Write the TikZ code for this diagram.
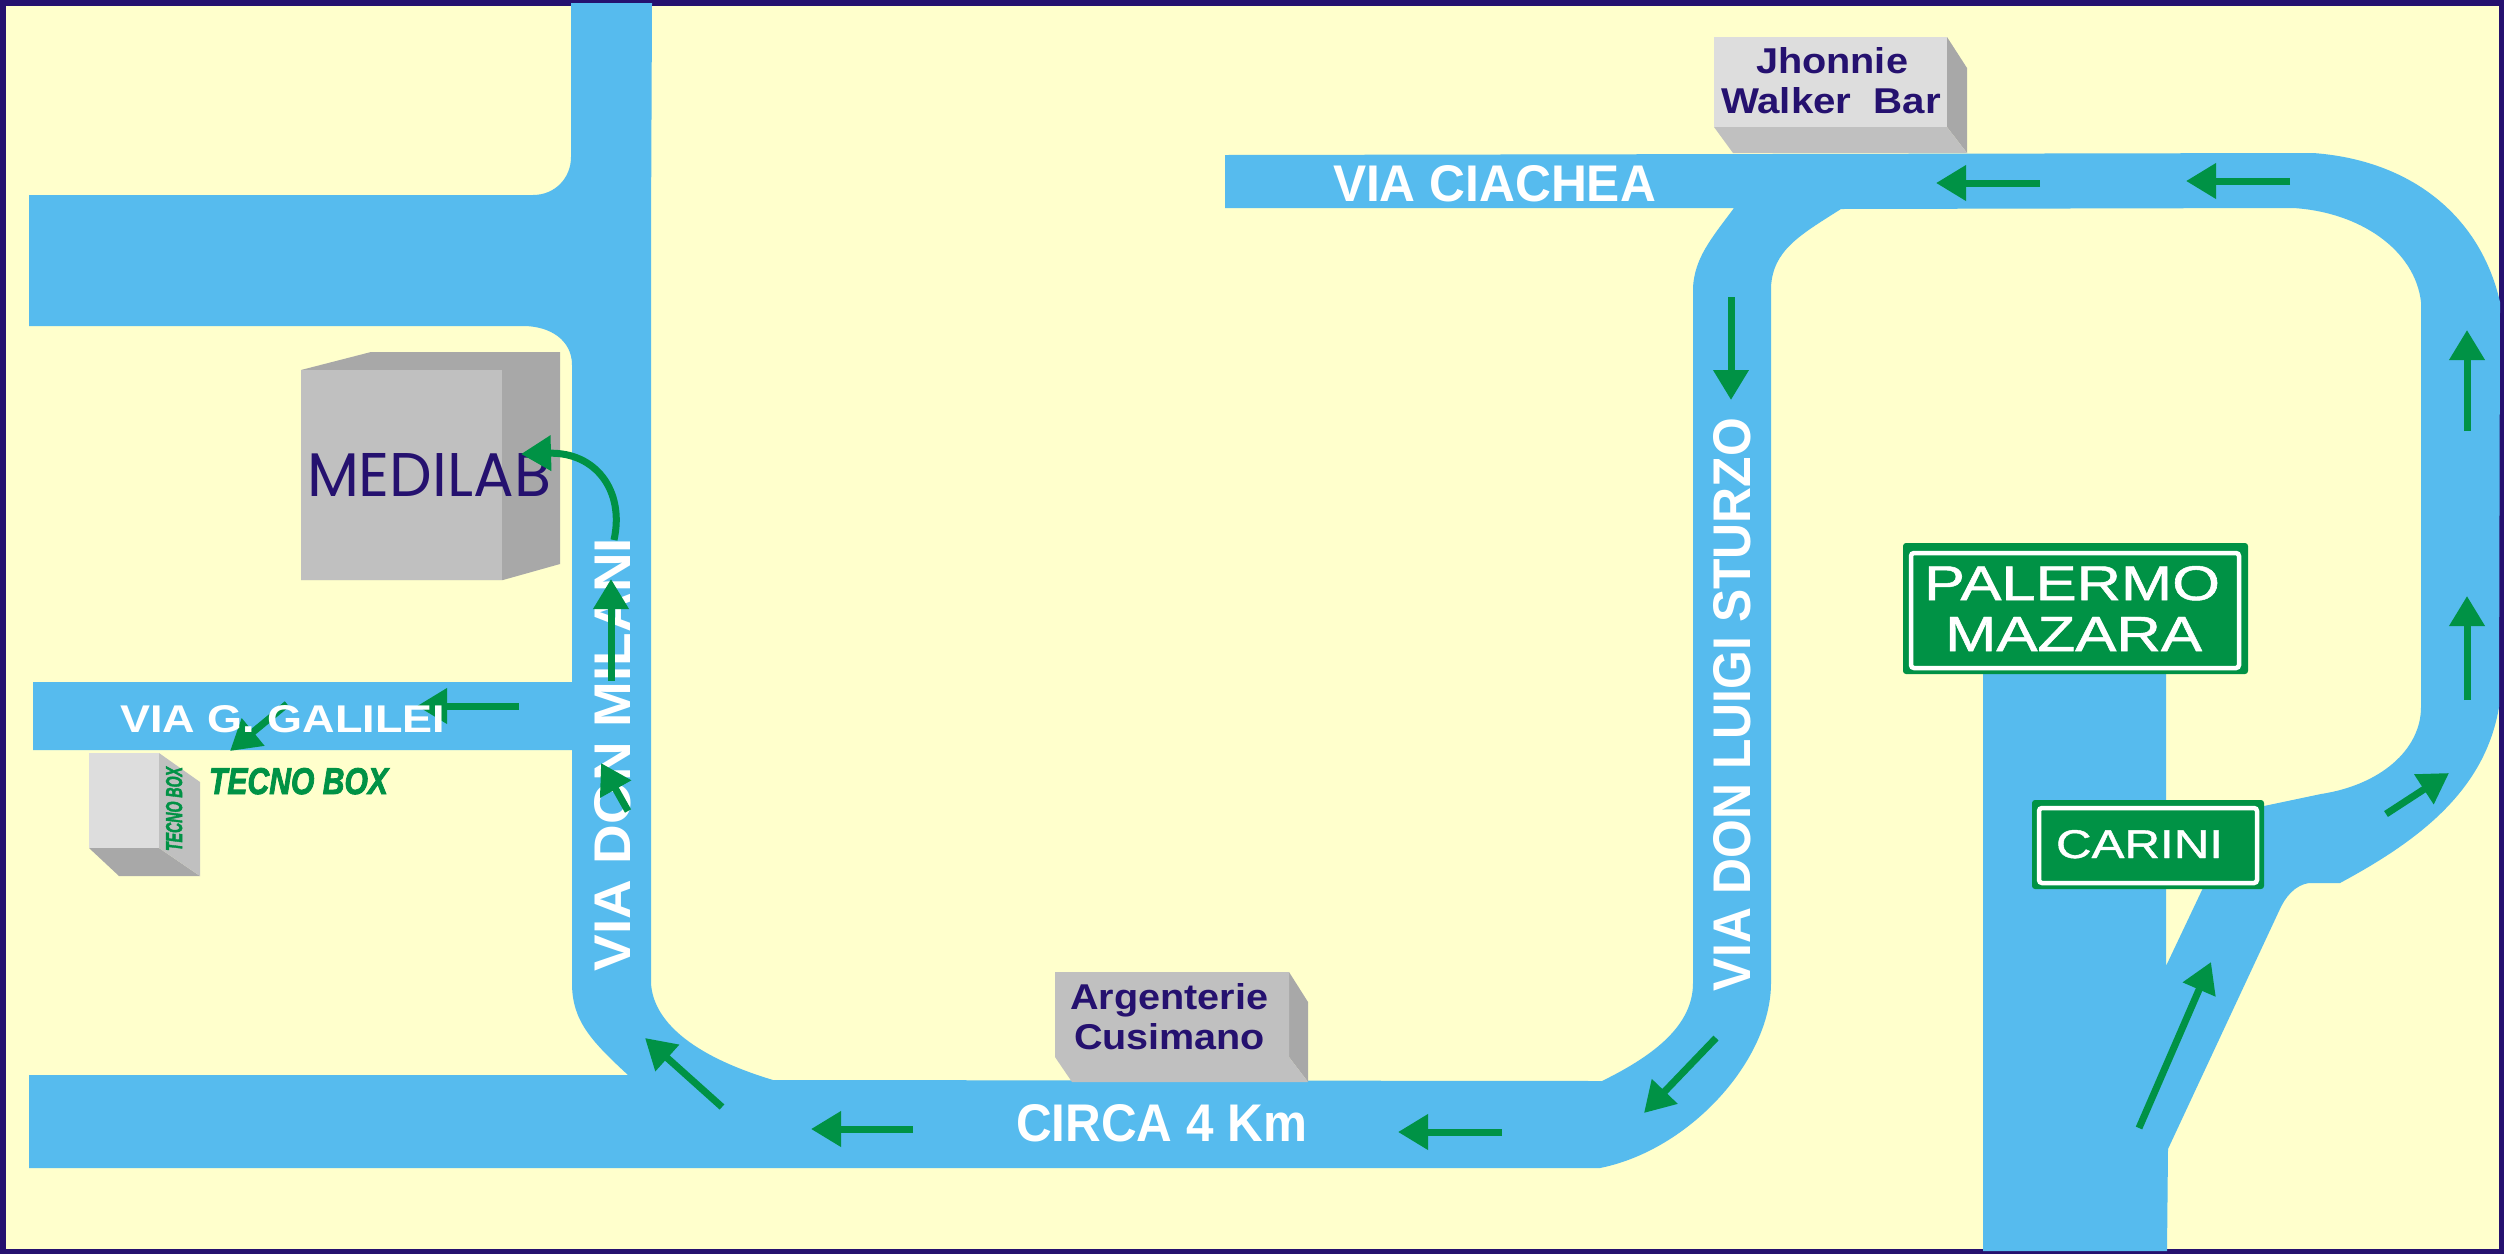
\documentclass[tikz,border=0pt]{standalone}
\usepackage{fontspec}
\usepackage{graphicx}
\setmainfont{Liberation Sans}
\newfontfamily\medifont{Poppins}
\newfontfamily\signfont{Liberation Sans}[FakeBold=1]
\newfontfamily\tecnofont{Liberation Sans Bold Italic}[FakeBold=2.5]
\usetikzlibrary{arrows.meta}
\definecolor{paper}{HTML}{FFFFCC}
\definecolor{frameblue}{HTML}{25116F}
\definecolor{roadblue}{HTML}{56BBEE}
\definecolor{signgreen}{HTML}{009245}
\definecolor{greylight}{HTML}{DDDDDD}
\definecolor{greymid}{HTML}{C0C0C0}
\definecolor{greydark}{HTML}{A8A8A8}
\newcommand{\fitbox}[3]{\resizebox{#1pt}{#2pt}{#3}}
\tikzset{
  lbl/.style={inner sep=0pt,outer sep=0pt,anchor=base west},
  roadlbl/.style={lbl,text=white,font=\bfseries},
  signlbl/.style={lbl,text=white,font=\signfont},
  shoplbl/.style={lbl,text=frameblue,font=\bfseries},
  tecnolbl/.style={lbl,text=signgreen,font=\tecnofont},
  dirarrow/.style={draw=signgreen,line width=7pt,-{Triangle[length=30pt,width=34pt]}},
  signouter/.style={fill=signgreen,rounded corners=3pt},
  signinner/.style={draw=white,line width=4.5pt,rounded corners=3pt},
}
\begin{document}
\begin{tikzpicture}[x=1pt,y=-1pt]
\useasboundingbox (0,0) rectangle (2504,1254);
% ground and frame
\fill[paper] (0,0) rectangle (2504,1254);
\draw[frameblue,line width=5.5pt] (2.75,2.75) rectangle (2501.25,1251.25);
% road network
\fill[roadblue] (29,195) -- (533,195) .. controls (555,195) and (571,178) .. (571,157)
  -- (571,3) -- (652,3) -- (651,233) -- (651,983)
  .. controls (653,1020) and (690,1055) .. (773,1080)
  -- (1602,1081) .. controls (1655,1055) and (1693,1025) .. (1693,983)
  -- (1693,287) .. controls (1695,258) and (1710,240) .. (1734,208)
  -- (1225,208) -- (1225,155) -- (2313,153)
  .. controls (2410,160) and (2480,215) .. (2500,302)
  -- (2499,707) .. controls (2485,790) and (2420,840) .. (2340,883)
  -- (2309,883) .. controls (2295,885) and (2285,897) .. (2279,911)
  -- (2168,1149) -- (2167,1251) -- (1983,1251) -- (1983,660) -- (2166,660)
  -- (2166,966) -- (2202,890) -- (2230,830) -- (2264,806)
  -- (2321,794) .. controls (2380,785) and (2421,750) .. (2421,707)
  -- (2421,302) .. controls (2415,250) and (2360,212) .. (2293,208)
  -- (1841,209) .. controls (1800,235) and (1773,250) .. (1771,287)
  -- (1771,983) .. controls (1771,1060) and (1690,1150) .. (1600,1168)
  -- (29,1168) -- (29,1075) -- (628,1075)
  .. controls (590,1040) and (572,1020) .. (572,983)
  -- (572,750) -- (33,750) -- (33,682) -- (572,682) -- (572,365)
  .. controls (572,340) and (550,326) .. (523,326) -- (29,326) -- cycle;
% Medilab building
\fill[greydark] (301,370) -- (371,352) -- (560,352) -- (560,564) -- (503,580) -- (301,580) -- cycle;
\fill[greymid] (301,370) rectangle (502,580);
% Tecno Box building
\fill[greydark] (89,848) -- (119,876) -- (200,876) -- (159,848) -- cycle;
\fill[greymid] (159,753) -- (200,782) -- (200,876) -- (159,848) -- cycle;
\fill[greylight] (89,753) rectangle (159,848);
% Jhonnie Walker Bar building
\fill[greydark] (1947,37) -- (1967,68) -- (1967,153) -- (1947,127) -- cycle;
\fill[greymid] (1714,127) -- (1733,153) -- (1967,153) -- (1947,127) -- cycle;
\fill[greylight] (1714,37) rectangle (1947,127);
% Argenterie building
\fill[greydark] (1289,972) -- (1308,1002) -- (1308,1082) -- (1289,1057) -- cycle;
\fill[greymid] (1055,972) -- (1289,972) -- (1289,1057) -- (1308,1082) -- (1072,1082) -- (1055,1057) -- cycle;
% direction signs
\fill[signouter] (1903,543) rectangle (2248,674);
\draw[signinner] (1911,553) rectangle (2239,668);
\fill[signouter] (2032,800) rectangle (2264,889);
\draw[signinner] (2039,808) rectangle (2257,883);
% texts under the arrows
\node[roadlbl,rotate=90] (milani) at (630,971) {\fitbox{433}{36}{VIA DON MILANI}};
\node[roadlbl,rotate=90] (sturzo) at (1750,991) {\fitbox{573}{37}{VIA DON LUIGI STURZO}};
\node[roadlbl] (ciachea) at (1333,201) {\fitbox{323}{36}{VIA CIACHEA}};
\node[roadlbl] (circa) at (1016,1141) {\fitbox{291}{37}{CIRCA 4 Km}};
\node[signlbl] (palermo) at (1924,600) {\fitbox{296}{34}{PALERMO}};
\node[signlbl] (mazara) at (1945,651) {\fitbox{257}{34}{MAZARA}};
\node[signlbl] (carini) at (2056,858) {\fitbox{167}{28}{CARINI}};
\node[shoplbl] (jhonnie) at (1756,73) {\fitbox{152}{26}{Jhonnie}};
\node[shoplbl] (walker) at (1721,113) {\fitbox{220}{26}{Walker\ \ Bar}};
\node[shoplbl] (argenterie) at (1070,1009) {\fitbox{198}{26}{Argenterie}};
\node[shoplbl] (cusimano) at (1074,1049) {\fitbox{191}{26}{Cusimano}};
\node[lbl,text=frameblue] (medilab) at (307,496) {\fitbox{244}{43}{\medifont MEDILAB}};
\node[tecnolbl] (tecno) at (209,794) {\fitbox{179}{26}{TECNO BOX}};
\node[tecnolbl,rotate=90] (tecnoside) at (182,851) {\fitbox{84}{16}{TECNO BOX}};
% direction arrows
\draw[dirarrow] (614,540) .. controls (625,490) and (595,452) .. (521,454);
\draw[dirarrow] (611,681) -- (611,579);
\draw[dirarrow] (519,706) -- (417,706);
\draw[dirarrow] (287,704) -- (230,751);
\draw[dirarrow] (628,811) -- (601,763);
\draw[dirarrow] (2290,181) -- (2186,181);
\draw[dirarrow] (2040,183) -- (1936,183);
\draw[dirarrow] (1731,297) -- (1731,400);
\draw[dirarrow] (1716,1038) -- (1644,1113);
\draw[dirarrow] (1502,1132) -- (1398,1132);
\draw[dirarrow] (913,1129) -- (811,1129);
\draw[dirarrow] (722,1107) -- (645,1038);
\draw[dirarrow] (2139,1128) -- (2211,962);
\draw[dirarrow] (2386,814) -- (2449,773);
\draw[dirarrow] (2467,700) -- (2467,596);
\draw[dirarrow] (2467,431) -- (2467,330);
% this label lies over its arrows
\node[roadlbl] (galilei) at (120,732) {\fitbox{325}{27}{VIA G. GALILEI}};
\end{tikzpicture}
\end{document}
